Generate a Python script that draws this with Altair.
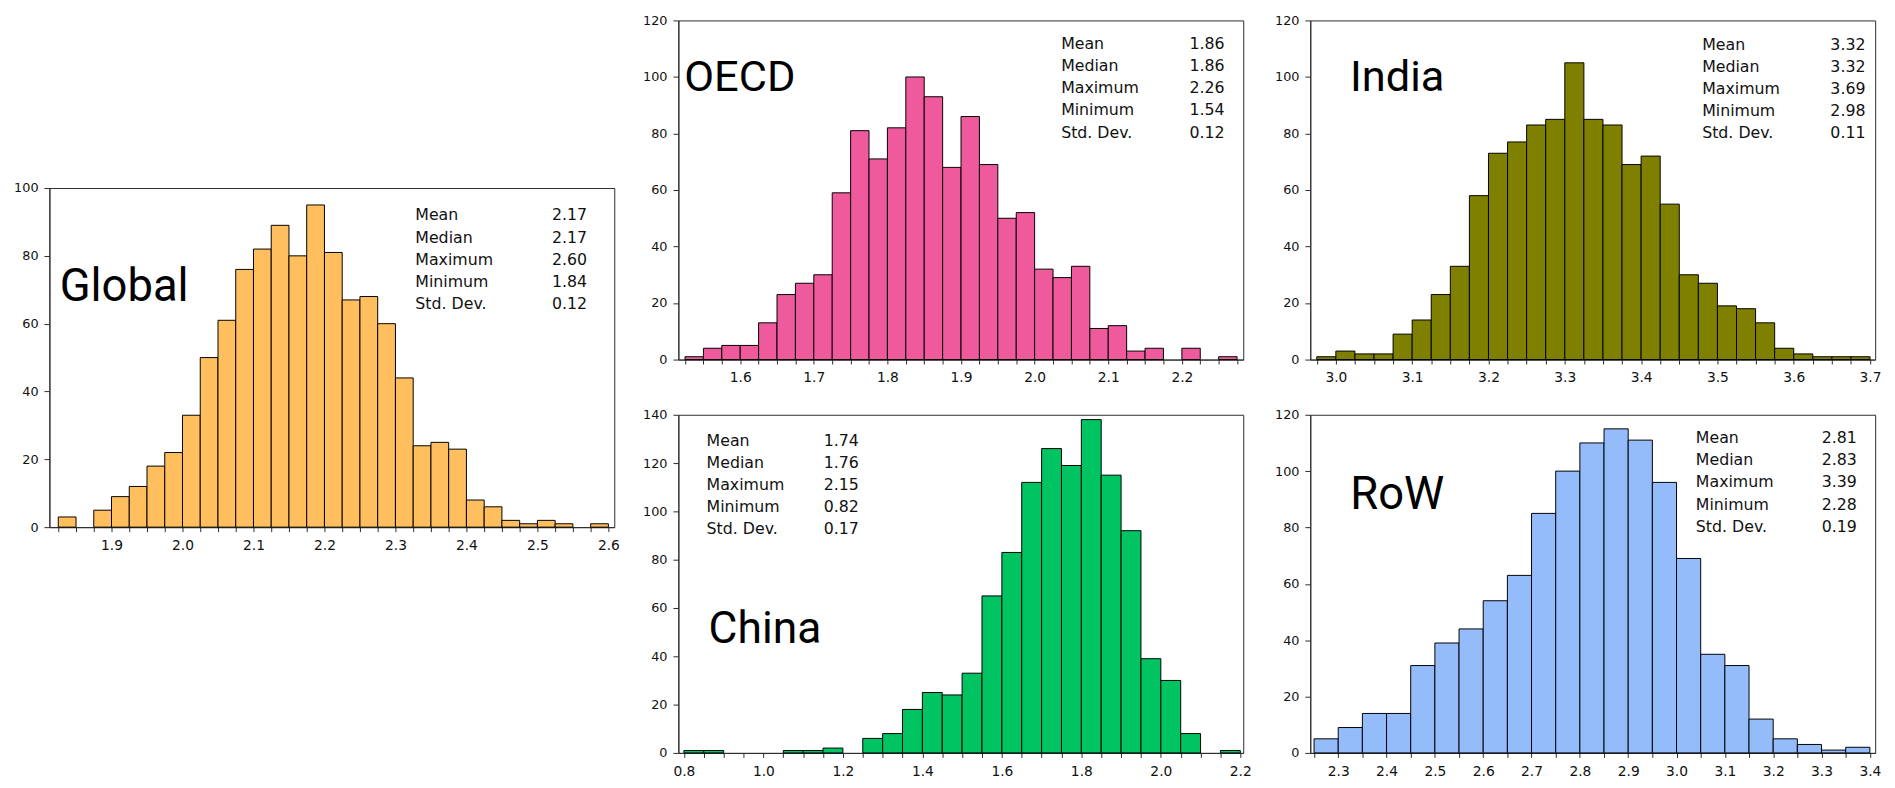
import altair as alt
import pandas as pd

# ---------------- data ----------------
stat_names = ["Mean", "Median", "Maximum", "Minimum", "Std. Dev."]

global_counts = [3, 0, 5, 9, 12, 18, 22, 33, 50, 61, 76, 82, 89, 80, 95, 81, 67, 68, 60, 44,
                 24, 25, 23, 8, 6, 2, 1, 2, 1, 0, 1]
global_start, global_w = 1.825, 0.025
global_stats = ["2.17", "2.17", "2.60", "1.84", "0.12"]

oecd_counts = [1, 4, 5, 5, 13, 23, 27, 30, 59, 81, 71, 82, 100, 93, 68, 86, 69, 50, 52, 32,
               29, 33, 11, 12, 3, 4, 0, 4, 0, 1]
oecd_start, oecd_w = 1.525, 0.025
oecd_stats = ["1.86", "1.86", "2.26", "1.54", "0.12"]

india_counts = [1, 3, 2, 2, 9, 14, 23, 33, 58, 73, 77, 83, 85, 105, 85, 83, 69, 72, 55, 30,
                27, 19, 18, 13, 4, 2, 1, 1, 1]
india_start, india_w = 2.975, 0.025
india_stats = ["3.32", "3.32", "3.69", "2.98", "0.11"]

china_counts = [1, 1, 0, 0, 0, 1, 1, 2, 0, 6, 8, 18, 25, 24, 33, 65, 83, 112, 126, 119,
                138, 115, 92, 39, 30, 8, 0, 1]
china_start, china_w = 0.80, 0.05
china_stats = ["1.74", "1.76", "2.15", "0.82", "0.17"]

row_counts = [5, 9, 14, 14, 31, 39, 44, 54, 63, 85, 100, 110, 115, 111, 96, 69, 35, 31, 12, 5,
              3, 1, 2]
row_start, row_w = 2.25, 0.05
row_stats = ["2.81", "2.83", "3.39", "2.28", "0.19"]

FRAME = "#2b2b2b"
TXT = "#111111"
TICKFONT = "DejaVu Sans"
LABELFONT = "Roboto"


def panel(counts, start, width, xdom, ymax, ystep, major, color, stats,
          sx_left, sx_right, sy0, sdy, label, lx, ly, lsize, h):
    edges = [round(start + i * width, 4) for i in range(len(counts))]
    df = pd.DataFrame({"x0": edges,
                       "x1": [round(e + width, 4) for e in edges],
                       "n": counts,
                       "z": [0] * len(counts)})
    df = df[df["n"] > 0]
    ticks = edges + [round(edges[-1] + width, 4)]
    yticks = list(range(0, ymax + 1, ystep))
    k = round(1 / major)
    xs = alt.Scale(domain=xdom, nice=False, zero=False)
    ys = alt.Scale(domain=[0, ymax], nice=False)
    xaxis = alt.Axis(values=ticks, grid=False, tickSize=4.5, tickColor=FRAME,
                     domainColor=FRAME, labelFont=TICKFONT, labelFontSize=14,
                     labelColor=TXT, labelPadding=7, labelFlush=False,
                     labelOverlap=False, labelBound=False,
                     labelExpr=f"abs(datum.value*{k} - round(datum.value*{k})) < 0.001 ? format(datum.value, '.1f') : ''")
    yaxis = alt.Axis(values=yticks, grid=False, tickSize=5.5, tickColor=FRAME,
                     domainColor=FRAME, labelFont=TICKFONT, labelFontSize=13,
                     labelColor=TXT, labelPadding=6, labelOverlap=False, labelBound=False)
    bars = alt.Chart(df).mark_rect(color=color, stroke="black", strokeWidth=1).encode(
        x=alt.X("x0:Q", scale=xs, title=None, axis=xaxis),
        x2="x1:Q",
        y=alt.Y("n:Q", scale=ys, title=None, axis=yaxis),
        y2="z:Q",
    )
    sdf = pd.DataFrame({"name": stat_names, "val": stats,
                        "xl": [sx_left] * 5, "xr": [sx_right] * 5,
                        "y": [sy0 - i * sdy for i in range(5)]})
    names = alt.Chart(sdf).mark_text(align="left", baseline="middle", font=TICKFONT,
                                     fontSize=16, color=TXT).encode(
        x=alt.X("xl:Q", scale=xs, title=None, axis=xaxis),
        y=alt.Y("y:Q", scale=ys, title=None, axis=yaxis),
        text="name:N")
    vals = alt.Chart(sdf).mark_text(align="right", baseline="middle", font=TICKFONT,
                                    fontSize=16, color=TXT).encode(
        x=alt.X("xr:Q", scale=xs, title=None, axis=xaxis),
        y=alt.Y("y:Q", scale=ys, title=None, axis=yaxis),
        text="val:N")
    ldf = pd.DataFrame({"t": [label], "x": [lx], "y": [ly]})
    lab = alt.Chart(ldf).mark_text(align="left", baseline="alphabetic", font=LABELFONT,
                                   fontSize=lsize, color="black").encode(
        x=alt.X("x:Q", scale=xs, title=None, axis=xaxis),
        y=alt.Y("y:Q", scale=ys, title=None, axis=yaxis),
        text="t:N")
    return alt.layer(bars, names, vals, lab).properties(
        width=573, height=h, view=alt.ViewBackground(stroke=FRAME, strokeWidth=1))


g = panel(global_counts, global_start, global_w, [1.8125, 2.6083], 100, 20, 0.1, "#FFBF5E",
          global_stats, 2.3280, 2.5700, 91.9, 6.54, "Global", 1.8270, 66.6, 46, 344)
o = panel(oecd_counts, oecd_start, oecd_w, [1.516, 2.2834], 120, 20, 0.1, "#EE5A9C",
          oecd_stats, 2.0360, 2.2580, 111.7, 7.85, "OECD", 1.5240, 94.9, 44, 344)
i_ = panel(india_counts, india_start, india_w, [2.9665, 3.7067], 120, 20, 0.1, "#808000",
           india_stats, 3.4800, 3.6940, 111.4, 7.85, "India", 3.0185, 94.9, 44, 344)
c = panel(china_counts, china_start, china_w, [0.786, 2.2074], 140, 20, 0.2, "#00C462",
          china_stats, 0.8570, 1.2400, 129.0, 9.1, "China", 0.8620, 45.6, 45, 343)
r = panel(row_counts, row_start, row_w, [2.2422, 3.411], 120, 20, 0.1, "#94BCFB",
          row_stats, 3.0400, 3.3730, 111.7, 7.87, "RoW", 2.3250, 86.7, 46, 343)

spacer = alt.Chart(pd.DataFrame({"v": [0]})).mark_point(opacity=0, size=1).encode(
    x=alt.value(280), y=alt.value(80)).properties(
    width=573, height=170, view=alt.ViewBackground(stroke="transparent"))

left_col = alt.vconcat(spacer, g, spacing=0, bounds="flush")
col2 = alt.vconcat(o, c, spacing=56, bounds="flush")
col3 = alt.vconcat(i_, r, spacing=56, bounds="flush")
chart = alt.hconcat(left_col, col2, col3, spacing=22).properties(
    padding={"left": 5, "top": 0, "right": 5, "bottom": 5}
)

chart.save("out.html", embed_options={"renderer": "svg", "actions": False})
